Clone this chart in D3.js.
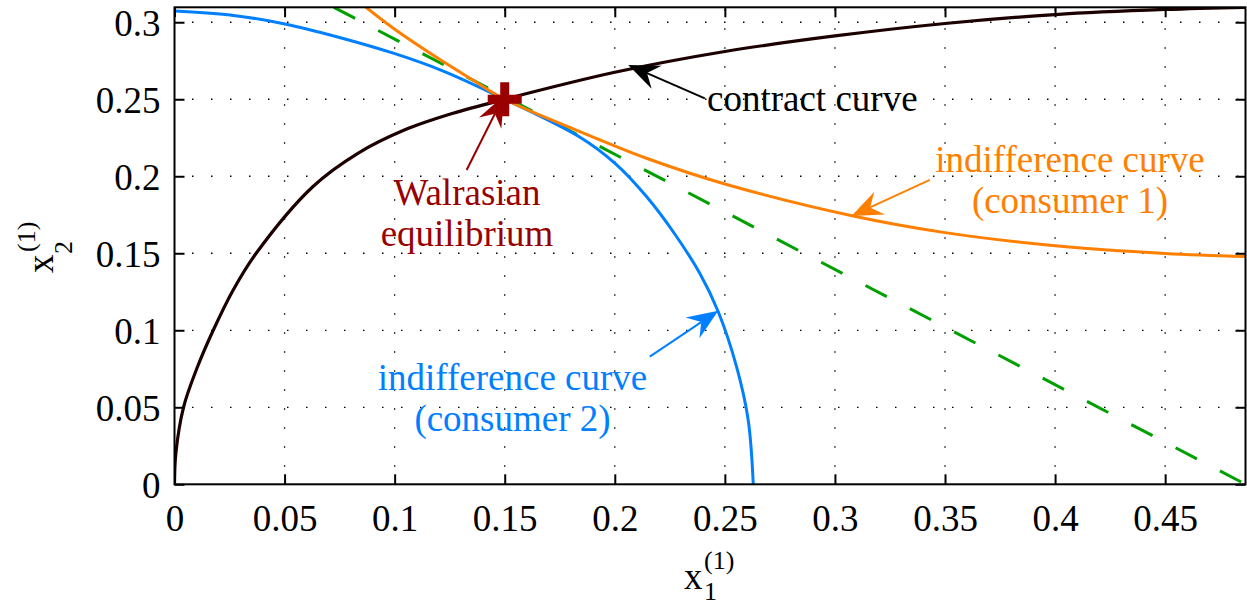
<!DOCTYPE html>
<html><head><meta charset="utf-8">
<script src="https://cdn.jsdelivr.net/npm/d3@7"></script>
<style>
body{margin:0;background:#fff}
svg{display:block}
svg text{font-family:"Liberation Serif","Times New Roman",Times,"Nimbus Roman","DejaVu Serif",serif}
</style>
</head><body>
<svg id="chart" width="1247" height="606"></svg>
<script>
// ---------- data ----------
const xDomain = [0, 0.4865];
const yDomain = [0, 0.3097];
const xTicks = [0, 0.05, 0.1, 0.15, 0.2, 0.25, 0.3, 0.35, 0.4, 0.45];
const xTickLabels = ["0", "0.05", "0.1", "0.15", "0.2", "0.25", "0.3", "0.35", "0.4", "0.45"];
const yTicks = [0, 0.05, 0.1, 0.15, 0.2, 0.25, 0.3];
const yTickLabels = ["0", "0.05", "0.1", "0.15", "0.2", "0.25", "0.3"];

const contractX = [0, 0.0006, 0.0041, 0.0101, 0.0176, 0.0266, 0.0371, 0.0628, 0.0833, 0.1044, 0.1261, 0.15, 0.2, 0.25, 0.3, 0.35, 0.40, 0.45, 0.4865];
const contractY = [0, 0.02, 0.05, 0.075, 0.10, 0.126, 0.15, 0.1932, 0.2149, 0.2300, 0.2407, 0.25, 0.2675, 0.281, 0.2911, 0.2992, 0.3050, 0.3083, 0.3097];

const consumer2X = [0, 0.0252, 0.0502, 0.0737, 0.0994, 0.1221, 0.15, 0.1842, 0.2, 0.2144, 0.227, 0.2386, 0.247, 0.2553, 0.2606, 0.2629];
const consumer2Y = [0.3073, 0.3047, 0.2989, 0.2906, 0.2799, 0.2683, 0.25, 0.2253, 0.2085, 0.1868, 0.163, 0.137, 0.112, 0.0764, 0.0418, 0];

const consumer1X = [0.087, 0.0994, 0.119, 0.1342, 0.15, 0.1842, 0.2144, 0.25, 0.3083, 0.35, 0.40, 0.45, 0.4865];
const consumer1Y = [0.3097, 0.2961, 0.2772, 0.2636, 0.25, 0.229, 0.2117, 0.195, 0.1742, 0.1634, 0.1549, 0.1499, 0.1479];

const priceLineX = [0.0724, 0.4865];
const priceLineY = [0.3097, 0];

const equilibrium = [0.15, 0.25];

// annotations: [tailX, tailY, tipX, tipY]
const contractArrow = [0.2409, 0.2506, 0.2061, 0.2723];
const consumer1Arrow = [0.3431, 0.1976, 0.3075, 0.1742];
const consumer2Arrow = [0.2159, 0.0829, 0.2470, 0.1127];
const walrasArrow = [0.1327, 0.2041, 0.1497, 0.2525];

// ---------- layout ----------
const L = 174.5, R = 1245.5, T = 7.3, B = 484.3;
const svg = d3.select("#chart");
const x = d3.scaleLinear().domain(xDomain).range([L, R]);
const y = d3.scaleLinear().domain(yDomain).range([B, T]);

const FS = 37;
const FONT = '"Liberation Serif","Times New Roman",Times,"Nimbus Roman","DejaVu Serif",serif';
const colors = {contract: "#1c0000", c1: "#ff8000", c2: "#0080ff", price: "#00a000", eq: "#990000"};

svg.append("rect").attr("x", 0).attr("y", 0).attr("width", 1247).attr("height", 606).attr("fill", "#fff");

svg.append("defs").append("clipPath").attr("id", "clip")
  .append("rect").attr("x", L).attr("y", T).attr("width", R - L).attr("height", B - T);

// grid
const grid = svg.append("g");
grid.selectAll("line.vg").data(xTicks.filter(d => d > 0)).join("line")
  .attr("x1", d => x(d)).attr("x2", d => x(d)).attr("y1", B).attr("y2", T)
  .attr("stroke", "#000").attr("stroke-width", 1.3)
  .attr("stroke-dasharray", "1.5,17.5").attr("stroke-dashoffset", -17.5);
grid.selectAll("line.hg").data(yTicks.filter(d => d > 0)).join("line")
  .attr("y1", d => y(d)).attr("y2", d => y(d)).attr("x1", L).attr("x2", R)
  .attr("stroke", "#000").attr("stroke-width", 1.3)
  .attr("stroke-dasharray", "1.5,17.5").attr("stroke-dashoffset", -17.5);

// curves
const plot = svg.append("g").attr("clip-path", "url(#clip)");
const line = d3.line().x(d => x(d[0])).y(d => y(d[1])).curve(d3.curveCatmullRom.alpha(0.5));
const zip = (a, b) => a.map((v, i) => [v, b[i]]);

plot.append("path").datum(zip(priceLineX, priceLineY))
  .attr("d", d3.line().x(d => x(d[0])).y(d => y(d[1])))
  .attr("fill", "none").attr("stroke", colors.price).attr("stroke-width", 3)
  .attr("stroke-dasharray", "24,26");
plot.append("path").datum(zip(contractX, contractY)).attr("d", line)
  .attr("fill", "none").attr("stroke", colors.contract).attr("stroke-width", 3.2);
plot.append("path").datum(zip(consumer2X, consumer2Y)).attr("d", line)
  .attr("fill", "none").attr("stroke", colors.c2).attr("stroke-width", 3);
plot.append("path").datum(zip(consumer1X, consumer1Y)).attr("d", line)
  .attr("fill", "none").attr("stroke", colors.c1).attr("stroke-width", 3);

// axes (box, inward ticks)
function fmt(ticks, labels) { return d => labels[ticks.indexOf(d)]; }
const axB = svg.append("g").attr("transform", `translate(0,${B})`)
  .call(d3.axisBottom(x).tickValues(xTicks).tickFormat(fmt(xTicks, xTickLabels)).tickSizeInner(-10).tickSizeOuter(0).tickPadding(20));
const axT = svg.append("g").attr("transform", `translate(0,${T})`)
  .call(d3.axisTop(x).tickValues(xTicks).tickFormat("").tickSizeInner(-10).tickSizeOuter(0));
const axLft = svg.append("g").attr("transform", `translate(${L},0)`)
  .call(d3.axisLeft(y).tickValues(yTicks).tickFormat(fmt(yTicks, yTickLabels)).tickSizeInner(-10).tickSizeOuter(0).tickPadding(14));
const axRgt = svg.append("g").attr("transform", `translate(${R},0)`)
  .call(d3.axisRight(y).tickValues(yTicks).tickFormat("").tickSizeInner(-10).tickSizeOuter(0));
[axB, axT, axLft, axRgt].forEach(g => {
  g.attr("font-family", FONT);
  g.select(".domain").remove();
  g.selectAll(".tick line").attr("stroke", "#000").attr("stroke-width", 2);
  g.selectAll("text").attr("font-size", FS).attr("font-family", FONT).attr("fill", "#000");
});
axLft.selectAll("text").attr("dy", "0.35em");
svg.append("rect").attr("x", L).attr("y", T).attr("width", R - L).attr("height", B - T)
  .attr("fill", "none").attr("stroke", "#000").attr("stroke-width", 2);

// equilibrium marker
const ex = x(equilibrium[0]), ey = y(equilibrium[1]);
svg.append("path").attr("d", `M${ex - 17},${ey}H${ex + 17}M${ex},${ey - 17}V${ey + 17}`)
  .attr("stroke", colors.eq).attr("stroke-width", 9).attr("fill", "none");

// arrows
function arrow(a, color, w) {
  const x0 = x(a[0]), y0 = y(a[1]), x1 = x(a[2]), y1 = y(a[3]);
  const dx = x1 - x0, dy = y1 - y0, len = Math.hypot(dx, dy);
  const ux = dx / len, uy = dy / len, px = -uy, py = ux;
  const HL = 31, HW = 12.5, NL = 0.66 * HL;
  const bx = x1 - ux * HL, by = y1 - uy * HL;
  const nx = x1 - ux * NL, ny = y1 - uy * NL;
  svg.append("line").attr("x1", x0).attr("y1", y0).attr("x2", nx).attr("y2", ny)
    .attr("stroke", color).attr("stroke-width", w);
  svg.append("path")
    .attr("d", `M${x1},${y1}L${bx + px * HW},${by + py * HW}L${nx},${ny}L${bx - px * HW},${by - py * HW}Z`)
    .attr("fill", color);
}
arrow(contractArrow, "#000", 2);
arrow(consumer1Arrow, colors.c1, 2);
arrow(consumer2Arrow, colors.c2, 2);
arrow(walrasArrow, colors.eq, 2);

// annotation text
function label(lines, cx, baseY, color, anchor) {
  const t = svg.append("text").attr("font-size", FS).attr("font-family", FONT).attr("fill", color).attr("text-anchor", anchor);
  lines.forEach((s, i) => t.append("tspan").attr("x", cx).attr("y", baseY + i * 41).text(s));
}
label(["contract curve"], 707, 111, "#000", "start");
label(["Walrasian", "equilibrium"], 467, 205, colors.eq, "middle");
label(["indifference curve", "(consumer 1)"], 1070, 172, colors.c1, "middle");
label(["indifference curve", "(consumer 2)"], 512.5, 390, colors.c2, "middle");

// axis labels
const xl = svg.append("g").attr("font-family", FONT);
xl.append("text").attr("x", 684).attr("y", 589).attr("font-size", FS).text("x");
xl.append("text").attr("x", 704).attr("y", 569).attr("font-size", 26).text("(1)");
xl.append("text").attr("x", 704).attr("y", 600).attr("font-size", 26).text("1");

const yl = svg.append("g").attr("font-family", FONT).attr("transform", "translate(53,273) rotate(-90)");
yl.append("text").attr("x", 0).attr("y", 0).attr("font-size", FS).text("x");
yl.append("text").attr("x", 21).attr("y", -18).attr("font-size", 26).text("(1)");
yl.append("text").attr("x", 19).attr("y", 19).attr("font-size", 26).text("2");
</script>
</body></html>
